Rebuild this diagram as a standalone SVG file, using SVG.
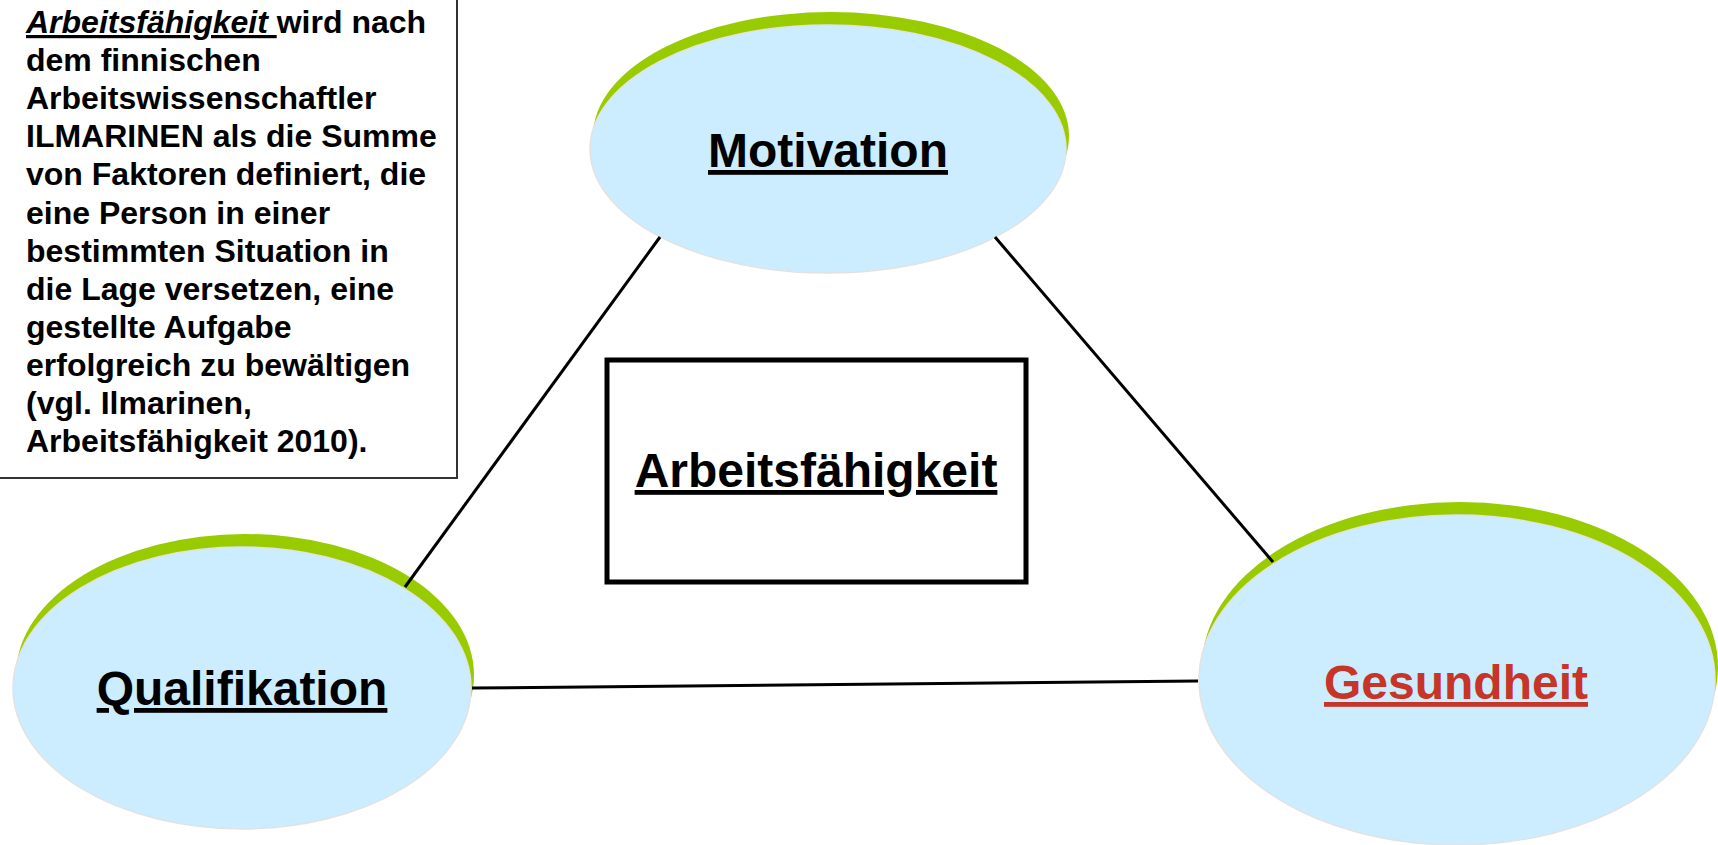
<svg xmlns="http://www.w3.org/2000/svg" width="1718" height="845" viewBox="0 0 1718 845">
  <style>
    text { font-family: "Liberation Sans", Arial, sans-serif; font-weight: bold; }
    .shade { fill: #99CC00; }
    .blob { fill: #CCECFF; stroke: #E2E2E2; stroke-width: 1.5; }
    .label { font-size: 48px; text-anchor: middle; text-decoration: underline; fill: #000; }
    .conn { stroke: #000; stroke-width: 3; fill: none; }
    .note { font-size: 32px; fill: #000; }
  </style>
  <rect width="1718" height="845" fill="#FFFFFF"/>

  <g id="definition-note">
    <rect x="-10" y="-10" width="467" height="488" fill="#FFFFFF" stroke="#333333" stroke-width="2"/>
    <text class="note" x="26" y="33">
      <tspan x="26" y="33"><tspan font-style="italic" text-decoration="underline">Arbeitsfähigkeit </tspan>wird nach</tspan>
      <tspan x="26" y="71.1">dem finnischen</tspan>
      <tspan x="26" y="109.2">Arbeitswissenschaftler</tspan>
      <tspan x="26" y="147.3">ILMARINEN als die Summe</tspan>
      <tspan x="26" y="185.4">von Faktoren definiert, die</tspan>
      <tspan x="26" y="223.5">eine Person in einer</tspan>
      <tspan x="26" y="261.6">bestimmten Situation in</tspan>
      <tspan x="26" y="299.7">die Lage versetzen, eine</tspan>
      <tspan x="26" y="337.8">gestellte Aufgabe</tspan>
      <tspan x="26" y="375.9">erfolgreich zu bewältigen</tspan>
      <tspan x="26" y="414">(vgl. Ilmarinen,</tspan>
      <tspan x="26" y="452.1">Arbeitsfähigkeit 2010).</tspan>
    </text>
  </g>

  <g id="motivation">
    <ellipse class="shade" cx="831" cy="136" rx="238" ry="124"/>
    <ellipse class="blob" cx="828" cy="149" rx="238" ry="124"/>
    <text class="label" x="828" y="167">Motivation</text>
  </g>

  <g id="qualifikation">
    <ellipse class="shade" cx="245" cy="675" rx="229" ry="141"/>
    <ellipse class="blob" cx="242" cy="688" rx="229" ry="141"/>
    <text class="label" x="242" y="705">Qualifikation</text>
  </g>

  <g id="gesundheit">
    <ellipse class="shade" cx="1460" cy="667" rx="258" ry="165"/>
    <ellipse class="blob" cx="1457" cy="680" rx="258" ry="165"/>
    <text class="label" x="1456" y="699" fill="#C63527" style="fill:#C63527">Gesundheit</text>
  </g>

  <g id="connectors">
    <line class="conn" x1="660" y1="237" x2="405" y2="587"/>
    <line class="conn" x1="995" y1="237" x2="1273" y2="562"/>
    <line class="conn" x1="472" y1="688" x2="1198" y2="681"/>
  </g>

  <g id="arbeitsfaehigkeit">
    <rect x="607" y="360" width="419" height="222" fill="#FFFFFF" stroke="#000000" stroke-width="5"/>
    <text class="label" x="816" y="487">Arbeitsfähigkeit</text>
  </g>
</svg>
